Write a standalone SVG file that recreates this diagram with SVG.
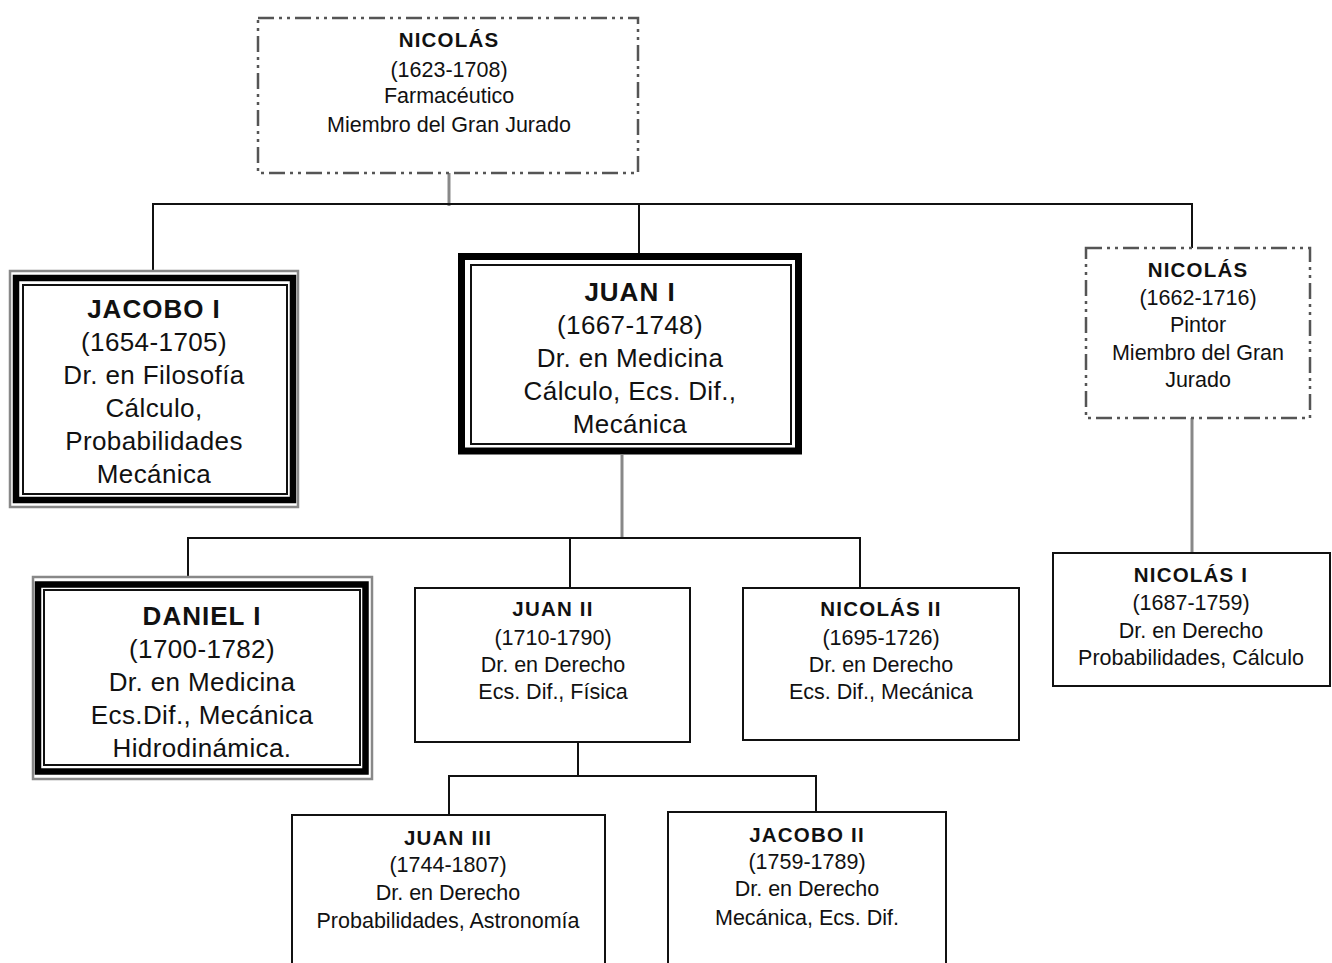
<svg xmlns="http://www.w3.org/2000/svg" width="1332" height="963" viewBox="0 0 1332 963">
<style>
.t{font-family:"Liberation Sans",Arial,sans-serif;fill:#111;text-anchor:middle}
.s{font-size:21.5px}
.sb{font-size:20.5px;font-weight:bold;letter-spacing:1.2px}
.b{font-size:26px;letter-spacing:0.4px}
.bb{font-size:26px;font-weight:bold;letter-spacing:1px}
.dash{fill:#fff;stroke:#555;stroke-width:2.5;stroke-dasharray:16 5 3 5 3 5}
.thin{fill:#fff;stroke:#111;stroke-width:2}
.gray{fill:none;stroke:#888;stroke-width:2.5}
.thick{fill:none;stroke:#000;stroke-width:6.5}
.in{fill:none;stroke:#111;stroke-width:2}
.c{stroke:#111;stroke-width:2;fill:none}
.cg{stroke:#888;stroke-width:3;fill:none}
</style>
<rect width="1332" height="963" fill="#fff"/>
<g id="connectors">
<line class="cg" x1="449" y1="173" x2="449" y2="206"/>
<line class="c" x1="152" y1="204" x2="1193" y2="204"/>
<line class="c" x1="153" y1="204" x2="153" y2="285"/>
<line class="c" x1="639" y1="204" x2="639" y2="262"/>
<line class="c" x1="1192" y1="204" x2="1192" y2="248"/>
<line class="cg" x1="622" y1="455" x2="622" y2="538"/>
<line class="c" x1="187" y1="538" x2="861" y2="538"/>
<line class="c" x1="188" y1="538" x2="188" y2="584"/>
<line class="c" x1="570" y1="538" x2="570" y2="588"/>
<line class="c" x1="860" y1="538" x2="860" y2="588"/>
<line class="cg" x1="1192" y1="418" x2="1192" y2="553"/>
<line class="c" x1="578" y1="742" x2="578" y2="776"/>
<line class="c" x1="448" y1="776" x2="817" y2="776"/>
<line class="c" x1="449" y1="776" x2="449" y2="815"/>
<line class="c" x1="816" y1="776" x2="816" y2="812"/>
</g>
<g id="nicolas-1623">
<rect class="dash" x="258" y="18" width="380" height="155"/>
<text class="t sb" x="449" y="47">NICOLÁS</text>
<text class="t s" x="449" y="77">(1623-1708)</text>
<text class="t s" x="449" y="103">Farmacéutico</text>
<text class="t s" x="449" y="132">Miembro del Gran Jurado</text>
</g>
<g id="jacobo-1">
<rect x="10" y="271" width="288" height="236" fill="#fff"/>
<rect class="gray" x="10" y="271" width="288" height="236"/>
<rect class="thick" x="16" y="278" width="277" height="222"/>
<rect class="in" x="23" y="285" width="264" height="209"/>
<text class="t bb" x="154" y="318">JACOBO I</text>
<text class="t b" x="154" y="351">(1654-1705)</text>
<text class="t b" x="154" y="384">Dr. en Filosofía</text>
<text class="t b" x="154" y="417">Cálculo,</text>
<text class="t b" x="154" y="450">Probabilidades</text>
<text class="t b" x="154" y="483">Mecánica</text>
</g>
<g id="juan-1">
<rect x="461" y="256" width="338" height="195" fill="#fff"/>
<rect x="461.5" y="256.5" width="337" height="194.5" fill="none" stroke="#000" stroke-width="7"/>
<rect class="in" x="471" y="265" width="320" height="179"/>
<text class="t bb" x="630" y="301">JUAN I</text>
<text class="t b" x="630" y="334">(1667-1748)</text>
<text class="t b" x="630" y="367">Dr. en Medicina</text>
<text class="t b" x="630" y="400">Cálculo, Ecs. Dif.,</text>
<text class="t b" x="630" y="433">Mecánica</text>
</g>
<g id="nicolas-1662">
<rect class="dash" x="1086" y="248" width="224" height="170"/>
<text class="t sb" x="1198" y="277">NICOLÁS</text>
<text class="t s" x="1198" y="305">(1662-1716)</text>
<text class="t s" x="1198" y="332">Pintor</text>
<text class="t s" x="1198" y="360">Miembro del Gran</text>
<text class="t s" x="1198" y="387">Jurado</text>
</g>
<g id="daniel-1">
<rect x="33" y="577" width="339" height="202" fill="#fff"/>
<rect class="gray" x="33" y="577" width="339" height="202"/>
<rect class="thick" x="38" y="584.5" width="327.5" height="187"/>
<rect class="in" x="44" y="590" width="316" height="175"/>
<text class="t bb" x="202" y="625">DANIEL I</text>
<text class="t b" x="202" y="658">(1700-1782)</text>
<text class="t b" x="202" y="691">Dr. en Medicina</text>
<text class="t b" x="202" y="724">Ecs.Dif., Mecánica</text>
<text class="t b" x="202" y="757">Hidrodinámica.</text>
</g>
<g id="juan-2">
<rect class="thin" x="415" y="588" width="275" height="154"/>
<text class="t sb" x="553" y="616">JUAN II</text>
<text class="t s" x="553" y="645">(1710-1790)</text>
<text class="t s" x="553" y="672">Dr. en Derecho</text>
<text class="t s" x="553" y="699">Ecs. Dif., Física</text>
</g>
<g id="nicolas-2">
<rect class="thin" x="743" y="588" width="276" height="152"/>
<text class="t sb" x="881" y="616">NICOLÁS II</text>
<text class="t s" x="881" y="645">(1695-1726)</text>
<text class="t s" x="881" y="672">Dr. en Derecho</text>
<text class="t s" x="881" y="699">Ecs. Dif., Mecánica</text>
</g>
<g id="nicolas-1">
<rect class="thin" x="1053" y="553" width="277" height="133"/>
<text class="t sb" x="1191" y="582">NICOLÁS I</text>
<text class="t s" x="1191" y="610">(1687-1759)</text>
<text class="t s" x="1191" y="638">Dr. en Derecho</text>
<text class="t s" x="1191" y="665">Probabilidades, Cálculo</text>
</g>
<g id="juan-3">
<rect class="thin" x="292" y="815" width="313" height="160"/>
<text class="t sb" x="448" y="845">JUAN III</text>
<text class="t s" x="448" y="872">(1744-1807)</text>
<text class="t s" x="448" y="900">Dr. en Derecho</text>
<text class="t s" x="448" y="928">Probabilidades, Astronomía</text>
</g>
<g id="jacobo-2">
<rect class="thin" x="668" y="812" width="278" height="163"/>
<text class="t sb" x="807" y="842">JACOBO II</text>
<text class="t s" x="807" y="869">(1759-1789)</text>
<text class="t s" x="807" y="896">Dr. en Derecho</text>
<text class="t s" x="807" y="925">Mecánica, Ecs. Dif.</text>
</g>
</svg>
